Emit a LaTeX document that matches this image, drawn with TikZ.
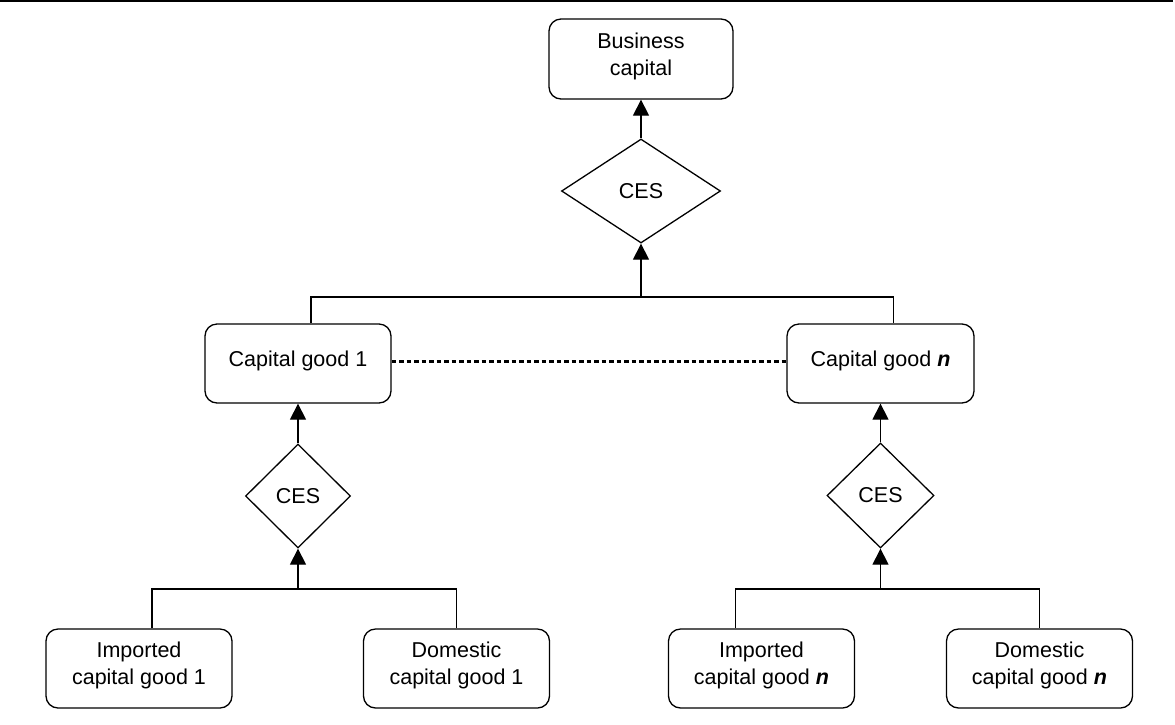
\documentclass[tikz,border=0pt]{standalone}
\usepackage{fontspec}
\setmainfont{Liberation Sans}
\usetikzlibrary{shapes.geometric,arrows.meta}
\newcommand{\nvar}{\textbf{\textit{n}}}
\begin{document}
\begin{tikzpicture}[x=1pt,y=-1pt,
  every node/.style={font=\fontsize{21.5}{27}\selectfont},
  goodbox/.style={draw,rounded corners=12pt,line width=1.3pt,
    minimum width=186pt,minimum height=79pt,align=center,inner sep=0pt,
    text depth=10pt},
  cesbox/.style={draw,diamond,line width=1.3pt,inner sep=0pt,
    minimum width=106pt,minimum height=104pt},
  link/.style={line width=1.3pt},
  feed/.style={link,-{Triangle[length=16pt,width=16pt]}},
  etc/.style={line width=3.5pt,dash pattern=on 4.5pt off 3pt},
]
\useasboundingbox (0,0) rectangle (1175,724);

% header rule
\coordinate (ruleL) at (0,1);
\coordinate (ruleR) at (1173,1);
\draw[line width=2pt] (ruleL) -- (ruleR);

% top level
\node[goodbox,minimum width=184pt,minimum height=80pt] (bc) at (641,59) {Business\\capital};
\node[cesbox,minimum width=159pt] (ces0) at (641,191) {CES};

% capital goods
\node[goodbox] (cg1) at (298,363.5) {Capital good 1};
\node[goodbox,minimum width=187pt] (cgn) at (880.5,363.5) {Capital good \nvar};

\node[cesbox,minimum width=105pt] (ces1) at (298,496) {CES};
\node[cesbox,minimum width=107pt,minimum height=105pt] (cesn) at (880.5,495.5) {CES};

% sources
\node[goodbox] (imp1) at (139,668.5) {Imported\\capital good 1};
\node[goodbox] (dom1) at (456.5,668.5) {Domestic\\capital good 1};
\node[goodbox] (impn) at (761.5,668.5) {Imported\\capital good \nvar};
\node[goodbox] (domn) at (1039.5,668.5) {Domestic\\capital good \nvar};

% bus junctions
\coordinate (bus0) at (641,297);
\coordinate (bus1) at (298,589);
\coordinate (busn) at (880.5,589);

% upper aggregation
\draw[feed] (ces0.north) -- (bc.south);
\draw[feed] (bus0) -- (ces0.south);
\draw[link] ([xshift=13pt]cg1.north) |- (bus0) -| ([xshift=13pt]cgn.north);

% left aggregation
\draw[feed] (ces1.north) -- (cg1.south);
\draw[feed] (bus1) -- (ces1.south);
\draw[link] ([xshift=13pt]imp1.north) |- (bus1) -| (dom1.north);

% right aggregation
\draw[feed] (cesn.north) -- (cgn.south);
\draw[feed] (busn) -- (cesn.south);
\draw[link] ([xshift=-26pt]impn.north) |- (busn) -| (domn.north);

% goods in between
\draw[etc] ([yshift=2pt]cg1.east) -- ([yshift=2pt]cgn.west);
\end{tikzpicture}
\end{document}
